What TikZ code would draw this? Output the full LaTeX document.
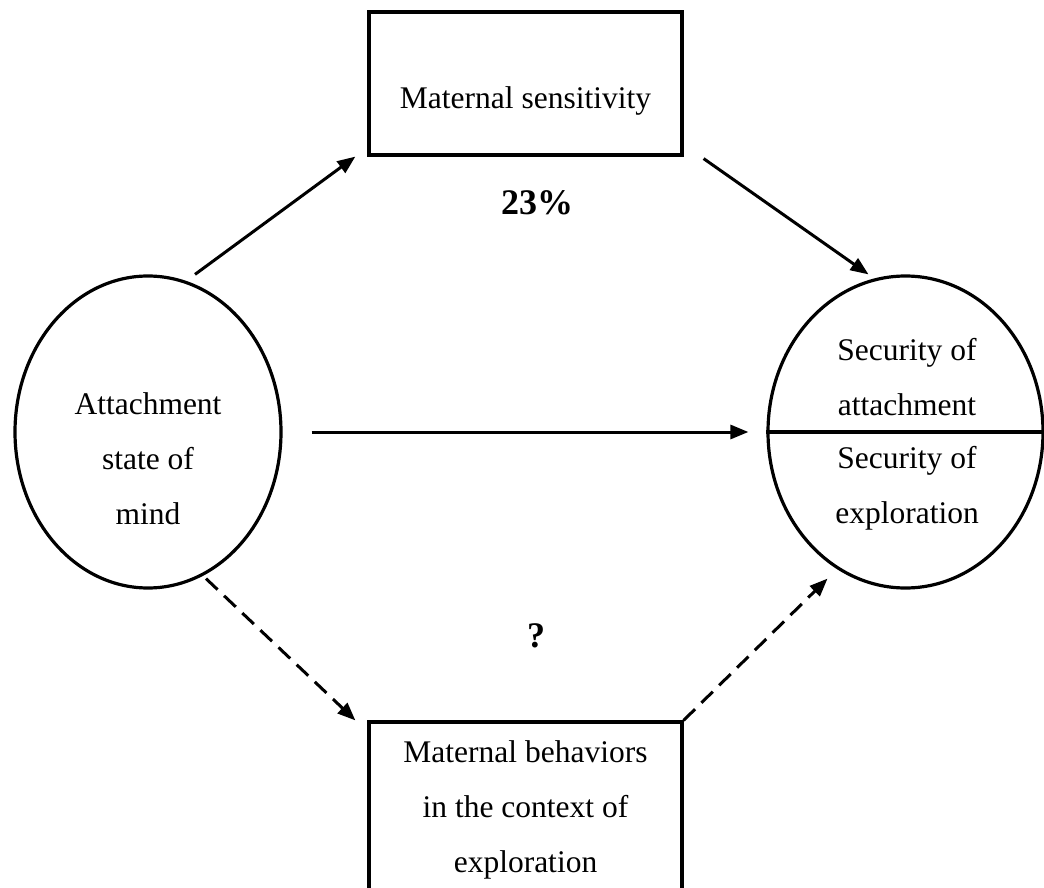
\documentclass[tikz,border=0pt]{standalone}
\usepackage{fontspec}
\setmainfont{Liberation Serif}
\usetikzlibrary{shapes.geometric,arrows.meta}
\begin{document}
\begin{tikzpicture}[x=1pt,y=-1pt,
  every node/.style={font=\fontsize{31.5}{55}\selectfont},
  box/.style={draw,line width=3.2pt,rectangle,inner sep=0pt},
  oval/.style={draw,line width=3.2pt,ellipse,inner sep=0pt},
  txt/.style={align=center,inner sep=0pt},
  lab/.style={font=\fontsize{36}{40}\selectfont\bfseries,inner sep=0pt},
  arr/.style={line width=3pt,-{Triangle[length=18pt,width=14pt]}},
  darr/.style={arr,dash pattern=on 16pt off 9pt}
]
\useasboundingbox (0,0) rectangle (1044,888);
\clip (0,0) rectangle (1044,888);

% nodes
\node[box,minimum width=313pt,minimum height=143pt] (ms) at (525.5,83.5) {};
\node[txt] (mstext) at (525.5,101) {Maternal sensitivity};

\node[oval,minimum width=266pt,minimum height=312pt] (la) at (148,432) {};
\node[txt] (latext) at (148,459) {Attachment\\state of\\mind};

\node[oval,minimum width=275pt,minimum height=312pt] (sa) at (905.5,432) {};
\node[txt] (sattext) at (907,377) {Security of\\attachment};
\node[txt] (sextext) at (907,488) {Security of\\exploration};
\draw[line width=3.2pt] (sa.west) -- (sa.east);

\node[box,minimum width=313pt,minimum height=200pt] (mb) at (525.5,822) {};
\node[txt] (mbtext) at (525.5,810) {Maternal behaviors\\in the context of\\exploration};

\node[lab] (pct) at (537,203) {23\%};
\node[lab] (q) at (536,636) {?};

% connectors
\draw[arr] ([xshift=47pt]la.north) -- ([xshift=-12pt]ms.south west);
\draw[arr] ([xshift=20pt,yshift=-2pt]ms.south east) -- ([xshift=-37pt]sa.north);
\draw[arr] ([xshift=29pt]la.east) -- ([xshift=-18pt]sa.west);
\draw[darr] ([xshift=58pt,yshift=11pt]la.south) -- ([xshift=-12pt]mb.north west);
\draw[darr] (mb.north east) -- ([xshift=-78pt,yshift=11pt]sa.south);
\end{tikzpicture}
\end{document}
